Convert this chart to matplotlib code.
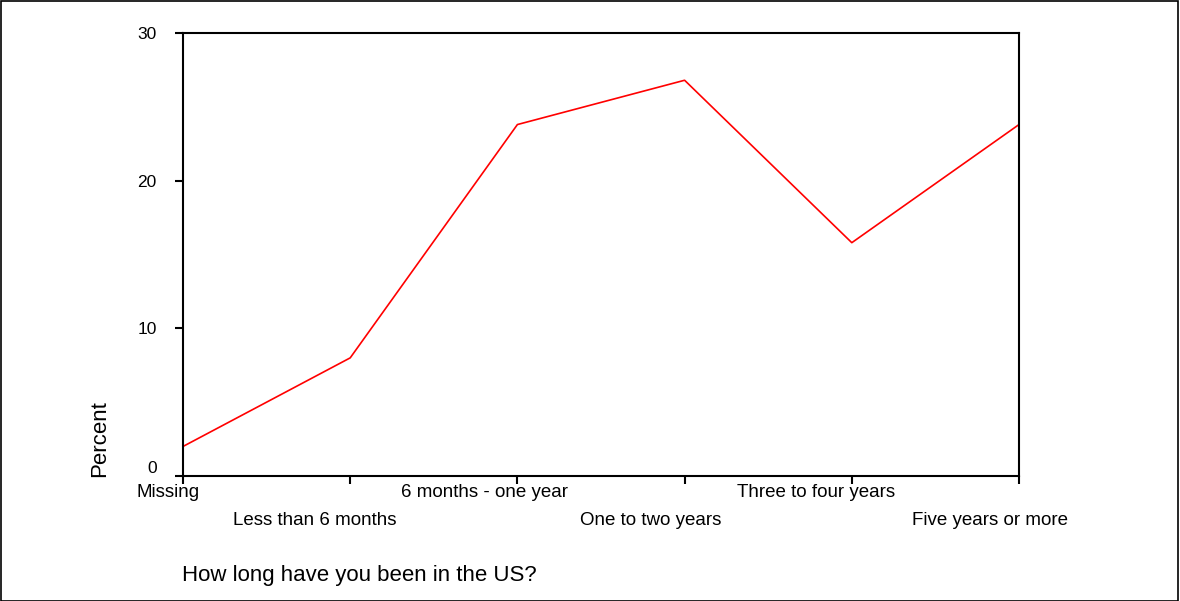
import matplotlib.pyplot as plt
import matplotlib.transforms as mtransforms
from matplotlib.patches import Rectangle

plt.rcParams['font.family'] = ['Liberation Sans', 'DejaVu Sans']

categories = ['Missing', 'Less than 6 months', '6 months - one year',
              'One to two years', 'Three to four years', 'Five years or more']
percent = [2.0, 8.0, 23.8, 26.8, 15.8, 23.8]
y_ticks = [0, 10, 20, 30]

fig = plt.figure(figsize=(11.8, 6.01), dpi=100)
ax = fig.add_axes([183 / 1180, 1 - 476 / 601, (1019 - 183) / 1180, (476 - 33) / 601])

x = list(range(len(categories)))
ax.plot(x, percent, color='#ff0000', lw=1.2)
ax.set_xlim(0, len(categories) - 1)
ax.set_ylim(0, 30)

for s in ax.spines.values():
    s.set_linewidth(1.5)
ax.tick_params(direction='out', length=6, width=1.5, colors='black')
ax.tick_params(axis='y', pad=13, labelsize=12.5)
ax.tick_params(axis='x', pad=0, labelsize=13.5)

ax.set_yticks(y_ticks)
ax.set_yticklabels([str(v) for v in y_ticks])
ax.get_yticklabels()[0].set_va('bottom')

# staggered category labels, shifted left like the original
ax.set_xticks(x)
ax.set_xticklabels(categories)
shifts = [15, 35, 33, 34, 36, 29]
for i, lab in enumerate(ax.get_xticklabels()):
    dy = 0 if i % 2 == 0 else -28
    lab.set_transform(lab.get_transform() +
                      mtransforms.ScaledTranslation(-shifts[i] / 100, dy / 100, fig.dpi_scale_trans))

fig.text(100 / 1180, 1 - 477 / 601, 'Percent', rotation=90, ha='center', va='bottom', fontsize=16)
fig.text(182 / 1180, 1 - 576 / 601, 'How long have you been in the US?', ha='left', va='center', fontsize=16)

fig.patches.append(Rectangle((0.5 / 1180, 0), 1177 / 1180, 1 - 0.5 / 601, transform=fig.transFigure,
                             fill=False, edgecolor='black', lw=1.2))

fig.savefig('out.png', dpi=100)
